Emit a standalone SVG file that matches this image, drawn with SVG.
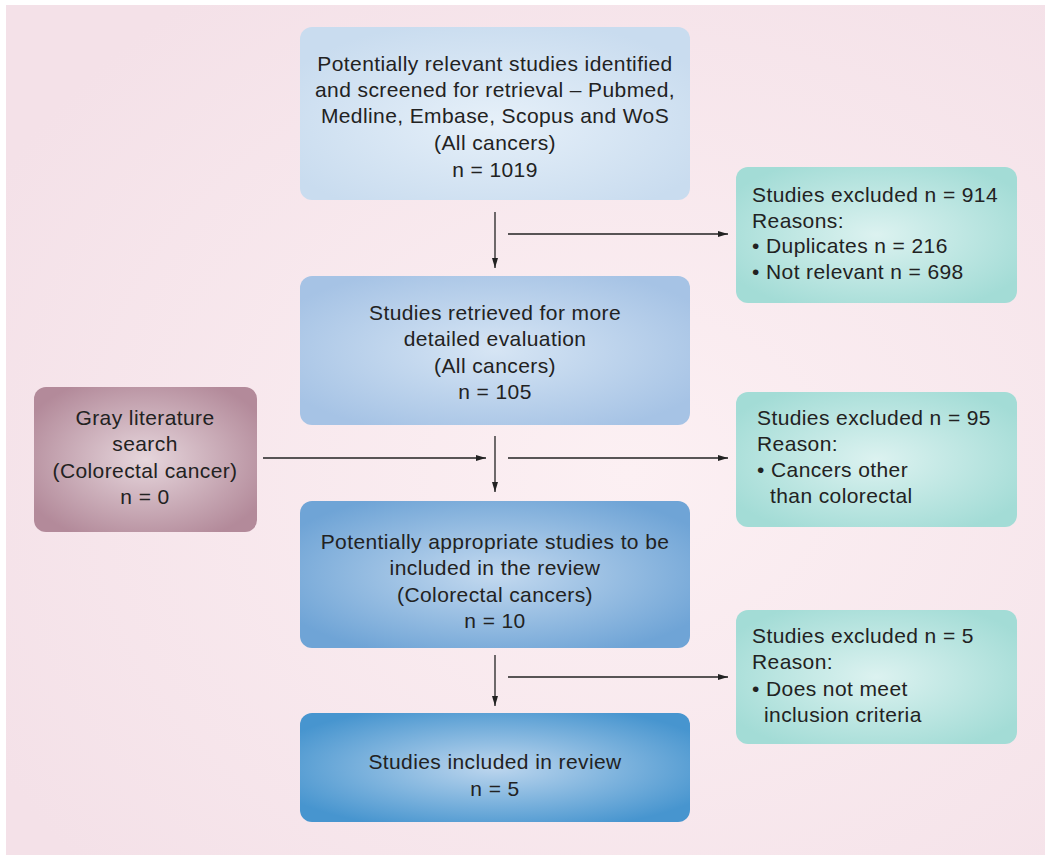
<svg xmlns="http://www.w3.org/2000/svg" width="1045" height="856" viewBox="0 0 1045 856">
<style>
text{font-family:"Liberation Sans",Arial,sans-serif;font-size:21px;letter-spacing:0.4px;fill:#222}
.c{text-anchor:middle}
.ln{stroke:#222;stroke-width:1.3;fill:none}
</style>
<defs>
<radialGradient id="bg" cx="0.6" cy="0.55" r="0.7">
<stop offset="0" stop-color="#fcf0f3"/><stop offset="1" stop-color="#f4e1e8"/>
</radialGradient>
<radialGradient id="g1" cx="0.5" cy="0.55" r="0.6">
<stop offset="0" stop-color="#e6f0f9"/><stop offset="1" stop-color="#c9dcef"/>
</radialGradient>
<radialGradient id="g2" cx="0.5" cy="0.5" r="0.6">
<stop offset="0" stop-color="#d6e5f4"/><stop offset="1" stop-color="#a6c3e5"/>
</radialGradient>
<radialGradient id="g3" cx="0.5" cy="0.5" r="0.6">
<stop offset="0" stop-color="#c3d9ef"/><stop offset="1" stop-color="#6fa4d6"/>
</radialGradient>
<radialGradient id="g4" cx="0.5" cy="0.5" r="0.6">
<stop offset="0" stop-color="#bdd6ee"/><stop offset="1" stop-color="#4795cf"/>
</radialGradient>
<radialGradient id="gg" cx="0.5" cy="0.5" r="0.6">
<stop offset="0" stop-color="#e6d6dc"/><stop offset="1" stop-color="#b38a9a"/>
</radialGradient>
<radialGradient id="gt" cx="0.5" cy="0.5" r="0.6">
<stop offset="0" stop-color="#dcf2f0"/><stop offset="1" stop-color="#a3dcd6"/>
</radialGradient>
<marker id="ah" viewBox="0 0 10 10" refX="10" refY="5" markerWidth="10" markerHeight="10" markerUnits="userSpaceOnUse" orient="auto">
<path d="M0,2 L10,5 L0,8 z" fill="#222"/>
</marker>
</defs>
<rect x="0" y="0" width="1045" height="856" fill="#fff"/>
<rect x="6" y="5" width="1039" height="850" fill="url(#bg)"/>

<g id="n1">
<rect x="300" y="27" width="390" height="173" rx="12" fill="url(#g1)"/>
<text class="c" x="495" y="71">Potentially relevant studies identified</text>
<text class="c" x="495" y="97">and screened for retrieval – Pubmed,</text>
<text class="c" x="495" y="123">Medline, Embase, Scopus and WoS</text>
<text class="c" x="495" y="150">(All cancers)</text>
<text class="c" x="495" y="177">n = 1019</text>
</g>
<g id="n2">
<rect x="300" y="276" width="390" height="149" rx="12" fill="url(#g2)"/>
<text class="c" x="495" y="320">Studies retrieved for more</text>
<text class="c" x="495" y="346">detailed evaluation</text>
<text class="c" x="495" y="373">(All cancers)</text>
<text class="c" x="495" y="399">n = 105</text>
</g>
<g id="n3">
<rect x="300" y="501" width="390" height="147" rx="12" fill="url(#g3)"/>
<text class="c" x="495" y="549">Potentially appropriate studies to be</text>
<text class="c" x="495" y="575">included in the review</text>
<text class="c" x="495" y="602">(Colorectal cancers)</text>
<text class="c" x="495" y="628">n = 10</text>
</g>
<g id="n4">
<rect x="300" y="713" width="390" height="109" rx="12" fill="url(#g4)"/>
<text class="c" x="495" y="769">Studies included in review</text>
<text class="c" x="495" y="796">n = 5</text>
</g>
<g id="gray">
<rect x="34" y="387" width="223" height="145" rx="12" fill="url(#gg)"/>
<text class="c" x="145" y="425">Gray literature</text>
<text class="c" x="145" y="451">search</text>
<text class="c" x="145" y="478">(Colorectal cancer)</text>
<text class="c" x="145" y="504">n = 0</text>
</g>
<g id="ex1">
<rect x="736" y="167" width="281" height="136" rx="12" fill="url(#gt)"/>
<text x="752" y="202">Studies excluded n = 914</text>
<text x="752" y="228">Reasons:</text>
<text x="752" y="253">• Duplicates n = 216</text>
<text x="752" y="279">• Not relevant n = 698</text>
</g>
<g id="ex2">
<rect x="736" y="392" width="281" height="135" rx="12" fill="url(#gt)"/>
<text x="757" y="425">Studies excluded n = 95</text>
<text x="757" y="451">Reason:</text>
<text x="757" y="477">• Cancers other</text>
<text x="770" y="503">than colorectal</text>
</g>
<g id="ex3">
<rect x="736" y="610" width="281" height="134" rx="12" fill="url(#gt)"/>
<text x="752" y="643">Studies excluded n = 5</text>
<text x="752" y="669">Reason:</text>
<text x="752" y="696">• Does not meet</text>
<text x="764" y="722">inclusion criteria</text>
</g>

<g id="connectors">
<line class="ln" x1="495" y1="212" x2="495" y2="268" marker-end="url(#ah)"/>
<line class="ln" x1="508" y1="234" x2="728" y2="234" marker-end="url(#ah)"/>
<line class="ln" x1="495" y1="436" x2="495" y2="492" marker-end="url(#ah)"/>
<line class="ln" x1="263" y1="458" x2="486" y2="458" marker-end="url(#ah)"/>
<line class="ln" x1="508" y1="458" x2="728" y2="458" marker-end="url(#ah)"/>
<line class="ln" x1="495" y1="655" x2="495" y2="706" marker-end="url(#ah)"/>
<line class="ln" x1="508" y1="677" x2="728" y2="677" marker-end="url(#ah)"/>
</g>
</svg>
